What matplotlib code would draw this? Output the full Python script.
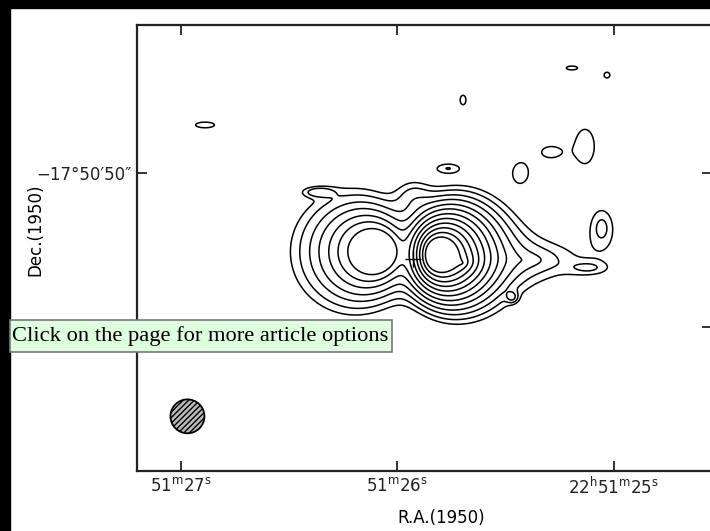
import numpy as np
import matplotlib
matplotlib.use("Agg")
import matplotlib.pyplot as plt
from matplotlib.patches import Ellipse, Rectangle

# --- map axes (RA seconds of 22h51m, Dec offset in arcsec from -17d50m50s) ---
ra_ticks = [27, 26, 25]
ra_labels = [r"51$^{\mathrm{m}}$27$^{\mathrm{s}}$",
             r"51$^{\mathrm{m}}$26$^{\mathrm{s}}$",
             r"22$^{\mathrm{h}}$51$^{\mathrm{m}}$25$^{\mathrm{s}}$"]
dec_ticks = [0, -10]
dec_labels = ["−17°50′50″", "−17°51′00″"]

# lobes: ra (s), dec ("), peak, flat core ("), falloff east ("), falloff west ("),
# dec/ra axis ratio
lobe_ra = [25.822, 26.115, 25.388, 25.702]
lobe_dec = [-5.30, -5.1, -5.65, -5.84]
lobe_amp = [164.0, 9.0, 2.0, 15.0]
lobe_core = [0.0, 1.40, 0.0, 0.0]
lobe_se = [0.53, 1.80, 4.0, 0.6]
lobe_sw = [1.12, 0.66, 4.0, 0.6]
lobe_ratio = [1.0, 0.95, 0.35, 0.7]

# faint compact patches (gaussian): ra, dec, peak, sigma_x, sigma_y
blob_ra = [26.889, 25.697, 25.194, 25.032, 25.767, 25.430, 25.296, 25.134,
           25.055, 25.471, 25.928, 26.367, 25.111]
blob_dec = [3.12, 4.74, 6.82, 6.36, 0.32, 0.06, 1.36, 1.75,
            -3.44, -8.05, -1.43, -1.23, -6.17]
blob_amp = [1.3, 1.3, 1.3, 1.3, 1.15, 1.25, 1.2, 1.25,
            1.25, 1.3, 1.0, 1.15, 0.8]
blob_sx = [0.85, 0.26, 0.51, 0.26, 0.77, 0.60, 0.77, 0.9,
           0.68, 0.26, 0.85, 0.77, 1.0]
blob_sy = [0.25, 0.42, 0.17, 0.25, 0.30, 0.75, 0.50, 1.6,
           1.09, 0.25, 0.84, 0.25, 0.35]

contour_levels = [1.0, 1.4, 2.0, 2.8, 4.0, 5.6, 8.0, 11.3, 16.0, 22.6, 32.0, 45.0]

peak_pos = (25.928, -5.58)
beam_pos = (26.97, -15.8)
beam_w, beam_h = 0.157, 2.2

ra_grid = np.linspace(24.4, 27.3, 800)
dec_grid = np.linspace(-21, 11, 700)
RA, DEC = np.meshgrid(ra_grid, dec_grid)

field = np.zeros_like(RA)
for ra, dec, amp, core, se, sw, q in zip(lobe_ra, lobe_dec, lobe_amp, lobe_core,
                                         lobe_se, lobe_sw, lobe_ratio):
    dx = (RA - ra) * 14.3          # arcsec, positive towards east (left)
    dy = (DEC - dec) / q
    d = np.hypot(dx, dy) + 1e-9
    cos_t = dx / d
    s = 0.5 * (se + sw) + 0.5 * (se - sw) * cos_t
    field += amp * np.exp(-np.clip(d - core, 0, None) / s)
for ra, dec, amp, sx, sy in zip(blob_ra, blob_dec, blob_amp, blob_sx, blob_sy):
    dx = (RA - ra) * 14.3
    dy = DEC - dec
    field += amp * np.exp(-0.5 * ((dx / sx) ** 2 + (dy / sy) ** 2))

W, H = 710, 531
fig = plt.figure(figsize=(W / 100, H / 100), dpi=100)
ax = fig.add_axes([137 / W, (H - 471) / H, (712 - 137) / W, (471 - 25) / H])

ax.contour(RA, DEC, field, levels=contour_levels, colors="black",
           linewidths=1.1)
ax.plot(*peak_pos, marker="+", color="black", ms=11, mew=1.0)
ax.add_patch(Ellipse(beam_pos, beam_w, beam_h, facecolor="#bbbbbb",
                     edgecolor="black", hatch="//////", lw=1.3))

ax.set_xlim(27.203, 24.547)
ax.set_ylim(-19.35, 9.61)

tick_font = ["DejaVu Sans"]
ax.set_xticks(ra_ticks)
ax.set_xticklabels(ra_labels, family=tick_font, fontsize=12)
ax.set_yticks(dec_ticks)
ax.set_yticklabels(dec_labels, family=tick_font, fontsize=12)
ax.tick_params(direction="in", length=7, width=1.3, top=True, right=True,
               pad=4, colors="#222222")
for s in ax.spines.values():
    s.set_linewidth(1.6)
    s.set_color("#222222")

fig.text(441 / W, 1 - 518 / H, "R.A.(1950)", family=tick_font, fontsize=12,
         ha="center", va="center")
fig.text(35 / W, 1 - 230 / H, "Dec.(1950)", family=tick_font, fontsize=12,
         rotation=90, ha="center", va="center")

# page frame and the overlay bar
fig.patches.append(Rectangle((0, 0), 10 / W, 1, transform=fig.transFigure,
                             color="black", zorder=5))
fig.patches.append(Rectangle((0, 1 - 8 / H), 1, 8 / H, transform=fig.transFigure,
                             color="black", zorder=5))
fig.patches.append(Rectangle((10 / W, (H - 352) / H), 382 / W, 32 / H,
                             transform=fig.transFigure, facecolor="#ddffdd",
                             edgecolor="#777777", lw=1.2, zorder=6))
fig.text(12 / W, 1 - 336 / H, "Click on the page for more article options",
         family=["Liberation Serif", "DejaVu Serif"], fontsize=16.2,
         ha="left", va="center", zorder=7)

fig.savefig("out.png", dpi=100)
